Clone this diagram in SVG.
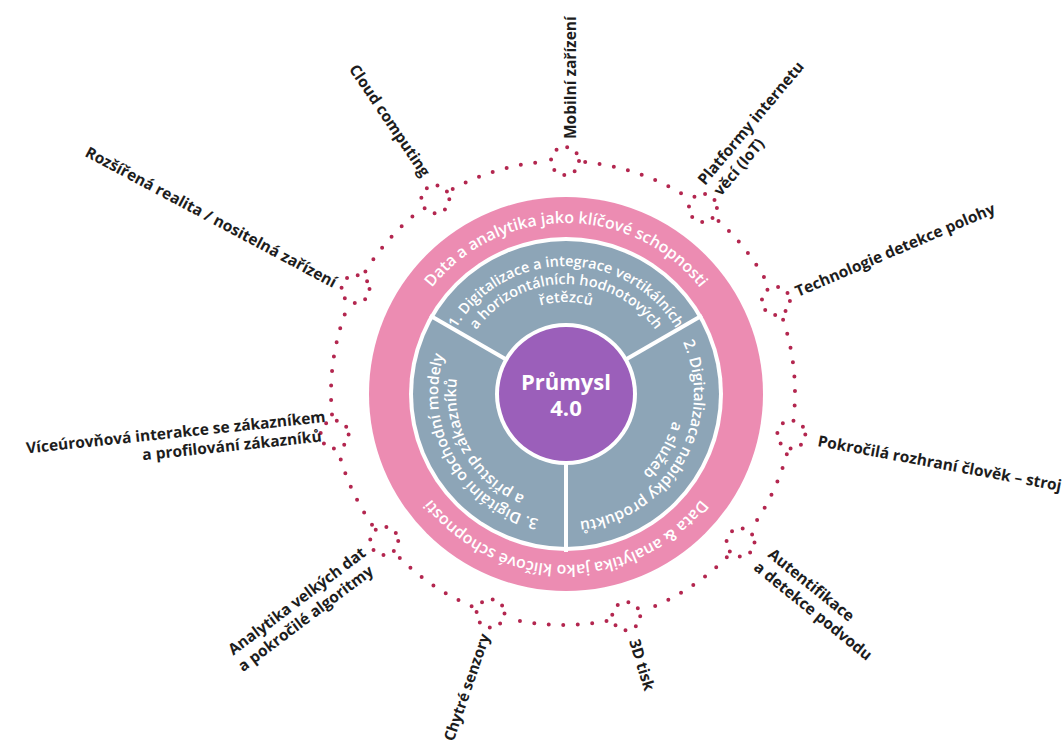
<svg xmlns="http://www.w3.org/2000/svg" width="1063" height="749" viewBox="0 0 1063 749">
<defs>
<style>
.lbl{font-family:"Open Sans","Liberation Sans",sans-serif;font-weight:700;font-size:15.5px;fill:#1d1d1d}
.ring{font-family:"Open Sans","Liberation Sans",sans-serif;font-weight:600;fill:#ffffff}
.dots{fill:none;stroke:#b3264f;stroke-width:4;stroke-linecap:round;stroke-dasharray:0 14.5}
.jdots{fill:none;stroke:#b3264f;stroke-width:4;stroke-linecap:round;stroke-dasharray:0 11.3}
.div{stroke:#ffffff;stroke-width:4}
</style>
<path id="pinkTop" d="M 395 394 A 171 171 0 0 1 737 394"/>
<path id="pinkBot" d="M 737 394 A 171 171 0 0 1 395 394"/>
<path id="s1l1" d="M 455.15 330 A 128 128 0 0 1 676.85 330"/>
<path id="s1l2" d="M 470.74 339 A 110 110 0 0 1 661.26 339"/>
<path id="s1l3" d="M 486.33 348 A 92 92 0 0 1 645.67 348"/>
<path id="s2l1" d="M 676.85 330 A 128 128 0 0 1 566 522"/>
<path id="s2l2" d="M 661.26 339 A 110 110 0 0 1 566 504"/>
<path id="s3l1" d="M 566 522 A 128 128 0 0 1 455.15 330"/>
<path id="s3l2" d="M 566 504 A 110 110 0 0 1 470.74 339"/>
</defs>
<rect width="1063" height="749" fill="#ffffff"/>

<g id="connectors">
<path class="dots" d="M 585.2 162.1 A 232 232 0 0 1 686.3 196.5"/>
<path class="dots" d="M 718.5 220.9 A 232 232 0 0 1 767.1 282.7"/>
<path class="dots" d="M 783.1 319.8 A 232 232 0 0 1 794.0 414.4"/>
<path class="dots" d="M 786.8 454.2 A 232 232 0 0 1 752.8 526.4"/>
<path class="dots" d="M 726.8 557.3 A 232 232 0 0 1 645.4 609.9"/>
<path class="dots" d="M 606.5 620.9 A 232 232 0 0 1 510.0 618.9"/>
<path class="dots" d="M 471.6 606.2 A 232 232 0 0 1 397.8 555.9"/>
<path class="dots" d="M 372.0 524.7 A 232 232 0 0 1 339.2 454.2"/>
<path class="dots" d="M 332.0 414.4 A 232 232 0 0 1 347.3 307.6"/>
<path class="dots" d="M 365.4 271.4 A 232 232 0 0 1 418.9 211.2"/>
<path class="dots" d="M 452.7 188.9 A 232 232 0 0 1 544.8 161.7"/>
<circle class="jdots" cx="565.0" cy="161.0" r="14"/>
<circle class="jdots" cx="702.9" cy="207.9" r="14"/>
<circle class="jdots" cx="775.9" cy="300.9" r="14"/>
<circle class="jdots" cx="791.3" cy="434.5" r="14"/>
<circle class="jdots" cx="740.5" cy="542.4" r="14"/>
<circle class="jdots" cx="626.2" cy="616.2" r="14"/>
<circle class="jdots" cx="490.5" cy="613.4" r="14"/>
<circle class="jdots" cx="384.2" cy="540.9" r="14"/>
<circle class="jdots" cx="334.6" cy="434.5" r="14"/>
<circle class="jdots" cx="355.5" cy="289.1" r="14"/>
<circle class="jdots" cx="435.3" cy="199.3" r="14"/>
</g>

<g id="ring-outer">
<circle cx="566" cy="394" r="197" fill="#ec8cb2"/>
<circle cx="566" cy="394" r="157" fill="#ffffff"/>
<text class="ring" font-size="16"><textPath href="#pinkTop" startOffset="50%" text-anchor="middle">Data a analytika jako klíčové schopnosti</textPath></text>
<text class="ring" font-size="16"><textPath href="#pinkBot" startOffset="50%" text-anchor="middle">Data &amp; analytika jako klíčové schopnosti</textPath></text>
</g>

<g id="ring-segments">
<circle cx="566" cy="394" r="153" fill="#8da5b7"/>
<line class="div" x1="566" y1="460" x2="566" y2="552"/>
<line class="div" x1="623.2" y1="361" x2="702" y2="315.5"/>
<line class="div" x1="508.8" y1="361" x2="430" y2="315.5"/>
</g>

<g id="segment-1">
<text class="ring" font-size="14.5"><textPath href="#s1l1" startOffset="50%" text-anchor="middle">1. Digitalizace a integrace vertikálních</textPath></text>
<text class="ring" font-size="14.5"><textPath href="#s1l2" startOffset="50%" text-anchor="middle">a horizontálních hodnotových</textPath></text>
<text class="ring" font-size="14.5"><textPath href="#s1l3" startOffset="50%" text-anchor="middle">řetězců</textPath></text>
</g>
<g id="segment-2">
<text class="ring" font-size="15.5"><textPath href="#s2l1" startOffset="50%" text-anchor="middle">2. Digitalizace nabídky produktů</textPath></text>
<text class="ring" font-size="15.5"><textPath href="#s2l2" startOffset="50%" text-anchor="middle">a služeb</textPath></text>
</g>
<g id="segment-3">
<text class="ring" font-size="15.5"><textPath href="#s3l1" startOffset="50%" text-anchor="middle">3. Digitální obchodní modely</textPath></text>
<text class="ring" font-size="15.5"><textPath href="#s3l2" startOffset="50%" text-anchor="middle">a přístup zákazníků</textPath></text>
</g>

<g id="center">
<circle cx="566" cy="394" r="71" fill="#ffffff"/>
<circle cx="566" cy="394" r="67" fill="#9b5fba"/>
<text x="566" y="390" text-anchor="middle" font-family="'Open Sans','Liberation Sans',sans-serif" font-weight="700" font-size="22" fill="#ffffff">Průmysl</text>
<text x="566" y="416" text-anchor="middle" font-family="'Open Sans','Liberation Sans',sans-serif" font-weight="700" font-size="22" fill="#ffffff">4.0</text>
</g>

<g id="label-mobilni"><text class="lbl" transform="translate(576,139) rotate(-90)">Mobilní zařízení</text></g>
<g id="label-platformy"><text class="lbl" transform="translate(705,186) rotate(-50)">Platformy internetu<tspan x="2" dy="19">věcí (IoT)</tspan></text></g>
<g id="label-technologie"><text class="lbl" transform="translate(798,297) rotate(-23)">Technologie detekce polohy</text></g>
<g id="label-pokrocila"><text class="lbl" transform="translate(817,446) rotate(10.5)">Pokročilá rozhraní člověk – stroj</text></g>
<g id="label-autentifikace"><text class="lbl" transform="translate(767,556) rotate(39)">Autentifikace<tspan x="-3" dy="19">a detekce podvodu</tspan></text></g>
<g id="label-3d"><text class="lbl" transform="translate(629,641) rotate(73)">3D tisk</text></g>
<g id="label-senzory"><text class="lbl" text-anchor="end" font-size="15" style="font-size:15px" transform="translate(490,636) rotate(-71)">Chytré senzory</text></g>
<g id="label-analytika"><text class="lbl" text-anchor="end" transform="translate(367,555) rotate(-37)">Analytika velkých dat<tspan x="-5" dy="19">a pokročilé algoritmy</tspan></text></g>
<g id="label-viceurovnova"><text class="lbl" text-anchor="end" transform="translate(326,422) rotate(-6)">Víceúrovňová interakce se zákazníkem<tspan x="-6" dy="19">a profilování zákazníků</tspan></text></g>
<g id="label-rozsirena"><text class="lbl" text-anchor="end" transform="translate(333,288) rotate(28)">Rozšířená realita / nositelná zařízení</text></g>
<g id="label-cloud"><text class="lbl" text-anchor="end" transform="translate(422,178) rotate(56)">Cloud computing</text></g>
</svg>
